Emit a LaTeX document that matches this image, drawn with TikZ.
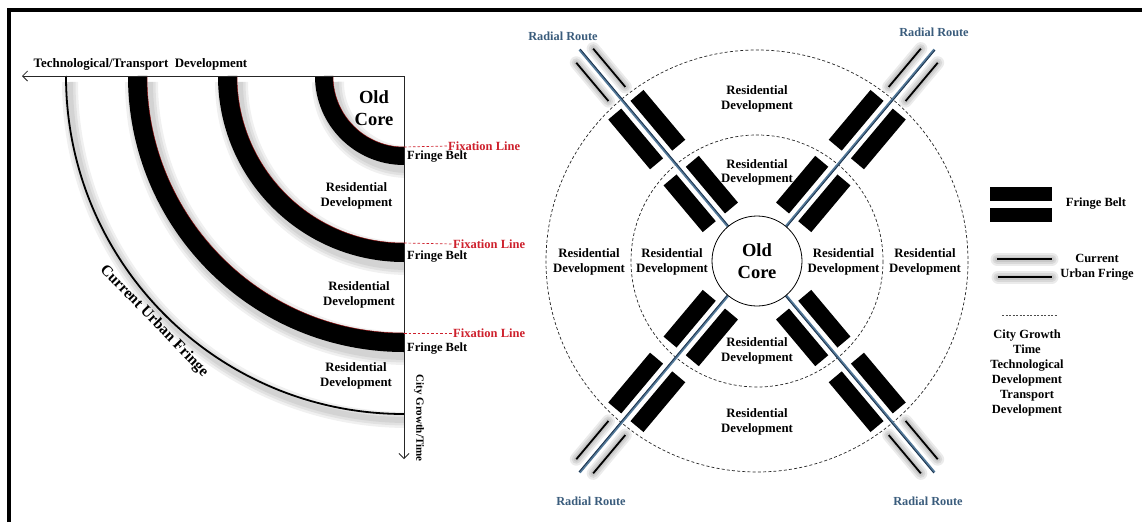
\documentclass[tikz,border=0pt]{standalone}
\usepackage{fontspec}
\setmainfont{Liberation Serif}
\usetikzlibrary{arrows.meta}

\definecolor{fixred}{RGB}{206,32,44}
\definecolor{routeblue}{RGB}{82,120,152}
\definecolor{routedark}{RGB}{28,48,72}
\definecolor{labelblue}{RGB}{58,92,124}

\tikzset{
  lbl/.style={font=\bfseries\fontsize{12.8}{14.8}\selectfont, align=center, inner sep=0pt},
  smalllbl/.style={font=\bfseries\fontsize{12.5}{15}\selectfont, align=center, inner sep=0pt},
  fixlbl/.style={font=\bfseries\fontsize{12.5}{15}\selectfont, text=fixred, inner sep=0pt, anchor=west},
  routelbl/.style={font=\bfseries\fontsize{12.3}{15}\selectfont, text=labelblue, inner sep=0pt},
  corelbl/.style={font=\bfseries\fontsize{18.5}{22}\selectfont, align=center, inner sep=0pt},
  axisline/.style={line width=0.8pt, black!85, -{Straight Barb[length=5pt,width=10pt]}},
  fixline/.style={fixred, line width=0.7pt, dash pattern=on 2.5pt off 2pt},
  dashcircle/.style={black!85, line width=0.7pt, dash pattern=on 3pt off 2.2pt},
  route/.style={routeblue, line width=2.6pt},
  routecore/.style={routedark, line width=0.7pt},
  fringeline/.style={black, line width=1.8pt},
  glow/.style={black, opacity=0.08, line cap=round},
}

\begin{document}
\begin{tikzpicture}[x=1pt,y=-1pt]
\useasboundingbox (0,0) rectangle (1142,522);
\fill[white] (0,0) rectangle (1142,522);

% frame along the top and the left side
\draw[line width=3.3pt, line join=miter] (9,522) -- (9,10) -- (1142,10);

% ---------------- concentric growth quadrant ----------------
\coordinate (O) at (404,76);

% soft drop shadows of the belts and of the urban fringe
\begin{scope}
  \clip (0,60) rectangle (404,470);
  \foreach \r/\w in {80/18, 176.5/19, 266.5/19, 338/2}{
    \foreach \extra in {14,9,4}{
      \pgfmathsetmacro{\lw}{\w+\extra}
      \draw[black, opacity=0.06, line width=\lw pt]
        ([shift={(4,6)}]O) ++(180:\r) arc[start angle=180, end angle=90, radius=\r];
    }
  }
\end{scope}

% fringe belts
\foreach \r/\w in {80/18, 176.5/19, 266.5/19}{
  \draw[line width=\w pt] (O) ++(180:\r) arc[start angle=180, end angle=90, radius=\r];
  \pgfmathsetmacro{\ri}{\r-\w/2}
  \draw[red!60!black, line width=0.5pt, opacity=0.8] (O) ++(180:\ri) arc[start angle=180, end angle=90, radius=\ri];
}

% current urban fringe
\draw[line width=1.8pt] (O) ++(180:338) arc[start angle=180, end angle=90, radius=338];

% axes
\coordinate (axL) at (22,76);
\coordinate (axB) at (404,459);
\draw[axisline] (O) -- (axL);
\draw[axisline] (O) -- (axB);

% fixation lines
\coordinate (f1) at (404,147);
\coordinate (f2) at (404,243);
\coordinate (f3) at (404,333);
\node[fixlbl] (fix1) at (448,146) {Fixation Line};
\node[fixlbl] (fix2) at (453,244) {Fixation Line};
\node[fixlbl] (fix3) at (453,333) {Fixation Line};
\draw[fixline] (f1) -- (fix1.west);
\draw[fixline] (f2) -- (fix2.west);
\draw[fixline] (f3) -- (fix3.west);

\node[smalllbl, anchor=west] (fb1) at (407,157) {Fringe Belt};
\node[smalllbl, anchor=west] (fb2) at (407,257) {Fringe Belt};
\node[smalllbl, anchor=west] (fb3) at (407,349) {Fringe Belt};

\node[corelbl] (oldcoreL) at (374,108) {Old\\Core};
\node[lbl] (resL1) at (356.5,196) {Residential\\Development};
\node[lbl] (resL2) at (359,295) {Residential\\Development};
\node[lbl] (resL3) at (356,376) {Residential\\Development};

\node[font=\bfseries\fontsize{12.9}{15}\selectfont, inner sep=0pt] (techdev) at (140.5,64) {Technological/Transport\ \ Development};
\node[font=\bfseries\fontsize{15.5}{18}\selectfont, inner sep=0pt, rotate=-46] (urbfringe) at (154,321) {Current Urban Fringe};
\node[font=\bfseries\fontsize{11}{12}\selectfont, inner sep=0pt, rotate=-90] (citygrowth) at (419,418) {City Growth/Time};

% ---------------- radial city model ----------------
\coordinate (C) at (757,261);
\draw[dashcircle] (C) circle[radius=211];
\draw[dashcircle] (C) circle[radius=126];

\foreach \a in {50,130,230,310}{
  \begin{scope}[shift={(C)}, rotate=\a]
    % fringe belts along the route
    \fill (57,6) -- (118,6) -- (118,23) -- (57,23) -- cycle;
    \fill (57,-6) -- (118,-6) -- (118,-23) -- (57,-23) -- cycle;
    \fill (139,6) -- (204,6) -- (204,23) -- (139,23) -- cycle;
    \fill (139,-6) -- (204,-6) -- (204,-23) -- (139,-23) -- cycle;
    % current urban fringe with its glow
    \foreach \gw in {13,9,5}{
      \draw[glow, line width=\gw pt] (218,11) -- (268,11);
      \draw[glow, line width=\gw pt] (218,-11) -- (268,-11);
    }
    \draw[fringeline] (218,11) -- (268,11);
    \draw[fringeline] (218,-11) -- (268,-11);
    % radial route
    \draw[route] (44,0) -- (276,0);
    \draw[routecore] (44,0.8) -- (276,0.8);
  \end{scope}
}

\node[circle, draw, line width=0.8pt, fill=white, minimum size=90pt, inner sep=0pt,
      font=\bfseries\fontsize{18.5}{22}\selectfont, align=center] (core) at (C) {Old\\Core};

\node[lbl] (resTo) at (757,99) {Residential\\Development};
\node[lbl] (resTi) at (757,172.5) {Residential\\Development};
\node[lbl] (resBi) at (757,351) {Residential\\Development};
\node[lbl] (resBo) at (757,422) {Residential\\Development};
\node[lbl] (resLo) at (589,262) {Residential\\Development};
\node[lbl] (resLi) at (672,262) {Residential\\Development};
\node[lbl] (resRi) at (843.5,262) {Residential\\Development};
\node[lbl] (resRo) at (925,262) {Residential\\Development};

\node[routelbl] (rrTL) at (563,36) {Radial Route};
\node[routelbl] (rrTR) at (934,32) {Radial Route};
\node[routelbl] (rrBL) at (591,501) {Radial Route};
\node[routelbl] (rrBR) at (928,501) {Radial Route};

% ---------------- legend ----------------
\fill (990,187) rectangle (1052,201);
\fill (990,208) rectangle (1052,222);
\node[smalllbl] (legFB) at (1096,204) {Fringe Belt};

\foreach \gw in {13,9,5}{
  \draw[glow, line width=\gw pt] (997,259) -- (1052,259);
  \draw[glow, line width=\gw pt] (998,277) -- (1052,277);
}
\draw[black, line width=1.8pt] (997,259) -- (1052,259);
\draw[black, line width=1.8pt] (998,277) -- (1052,277);
\node[smalllbl] (legCUF) at (1097,267) {Current\\Urban Fringe};

\draw[black!70, line width=0.6pt, dash pattern=on 2pt off 1.5pt] (1002,315) -- (1058,315);
\node[smalllbl] (legCG) at (1027,372.5) {City Growth\\Time\\Technological\\Development\\Transport\\Development};

\end{tikzpicture}
\end{document}
